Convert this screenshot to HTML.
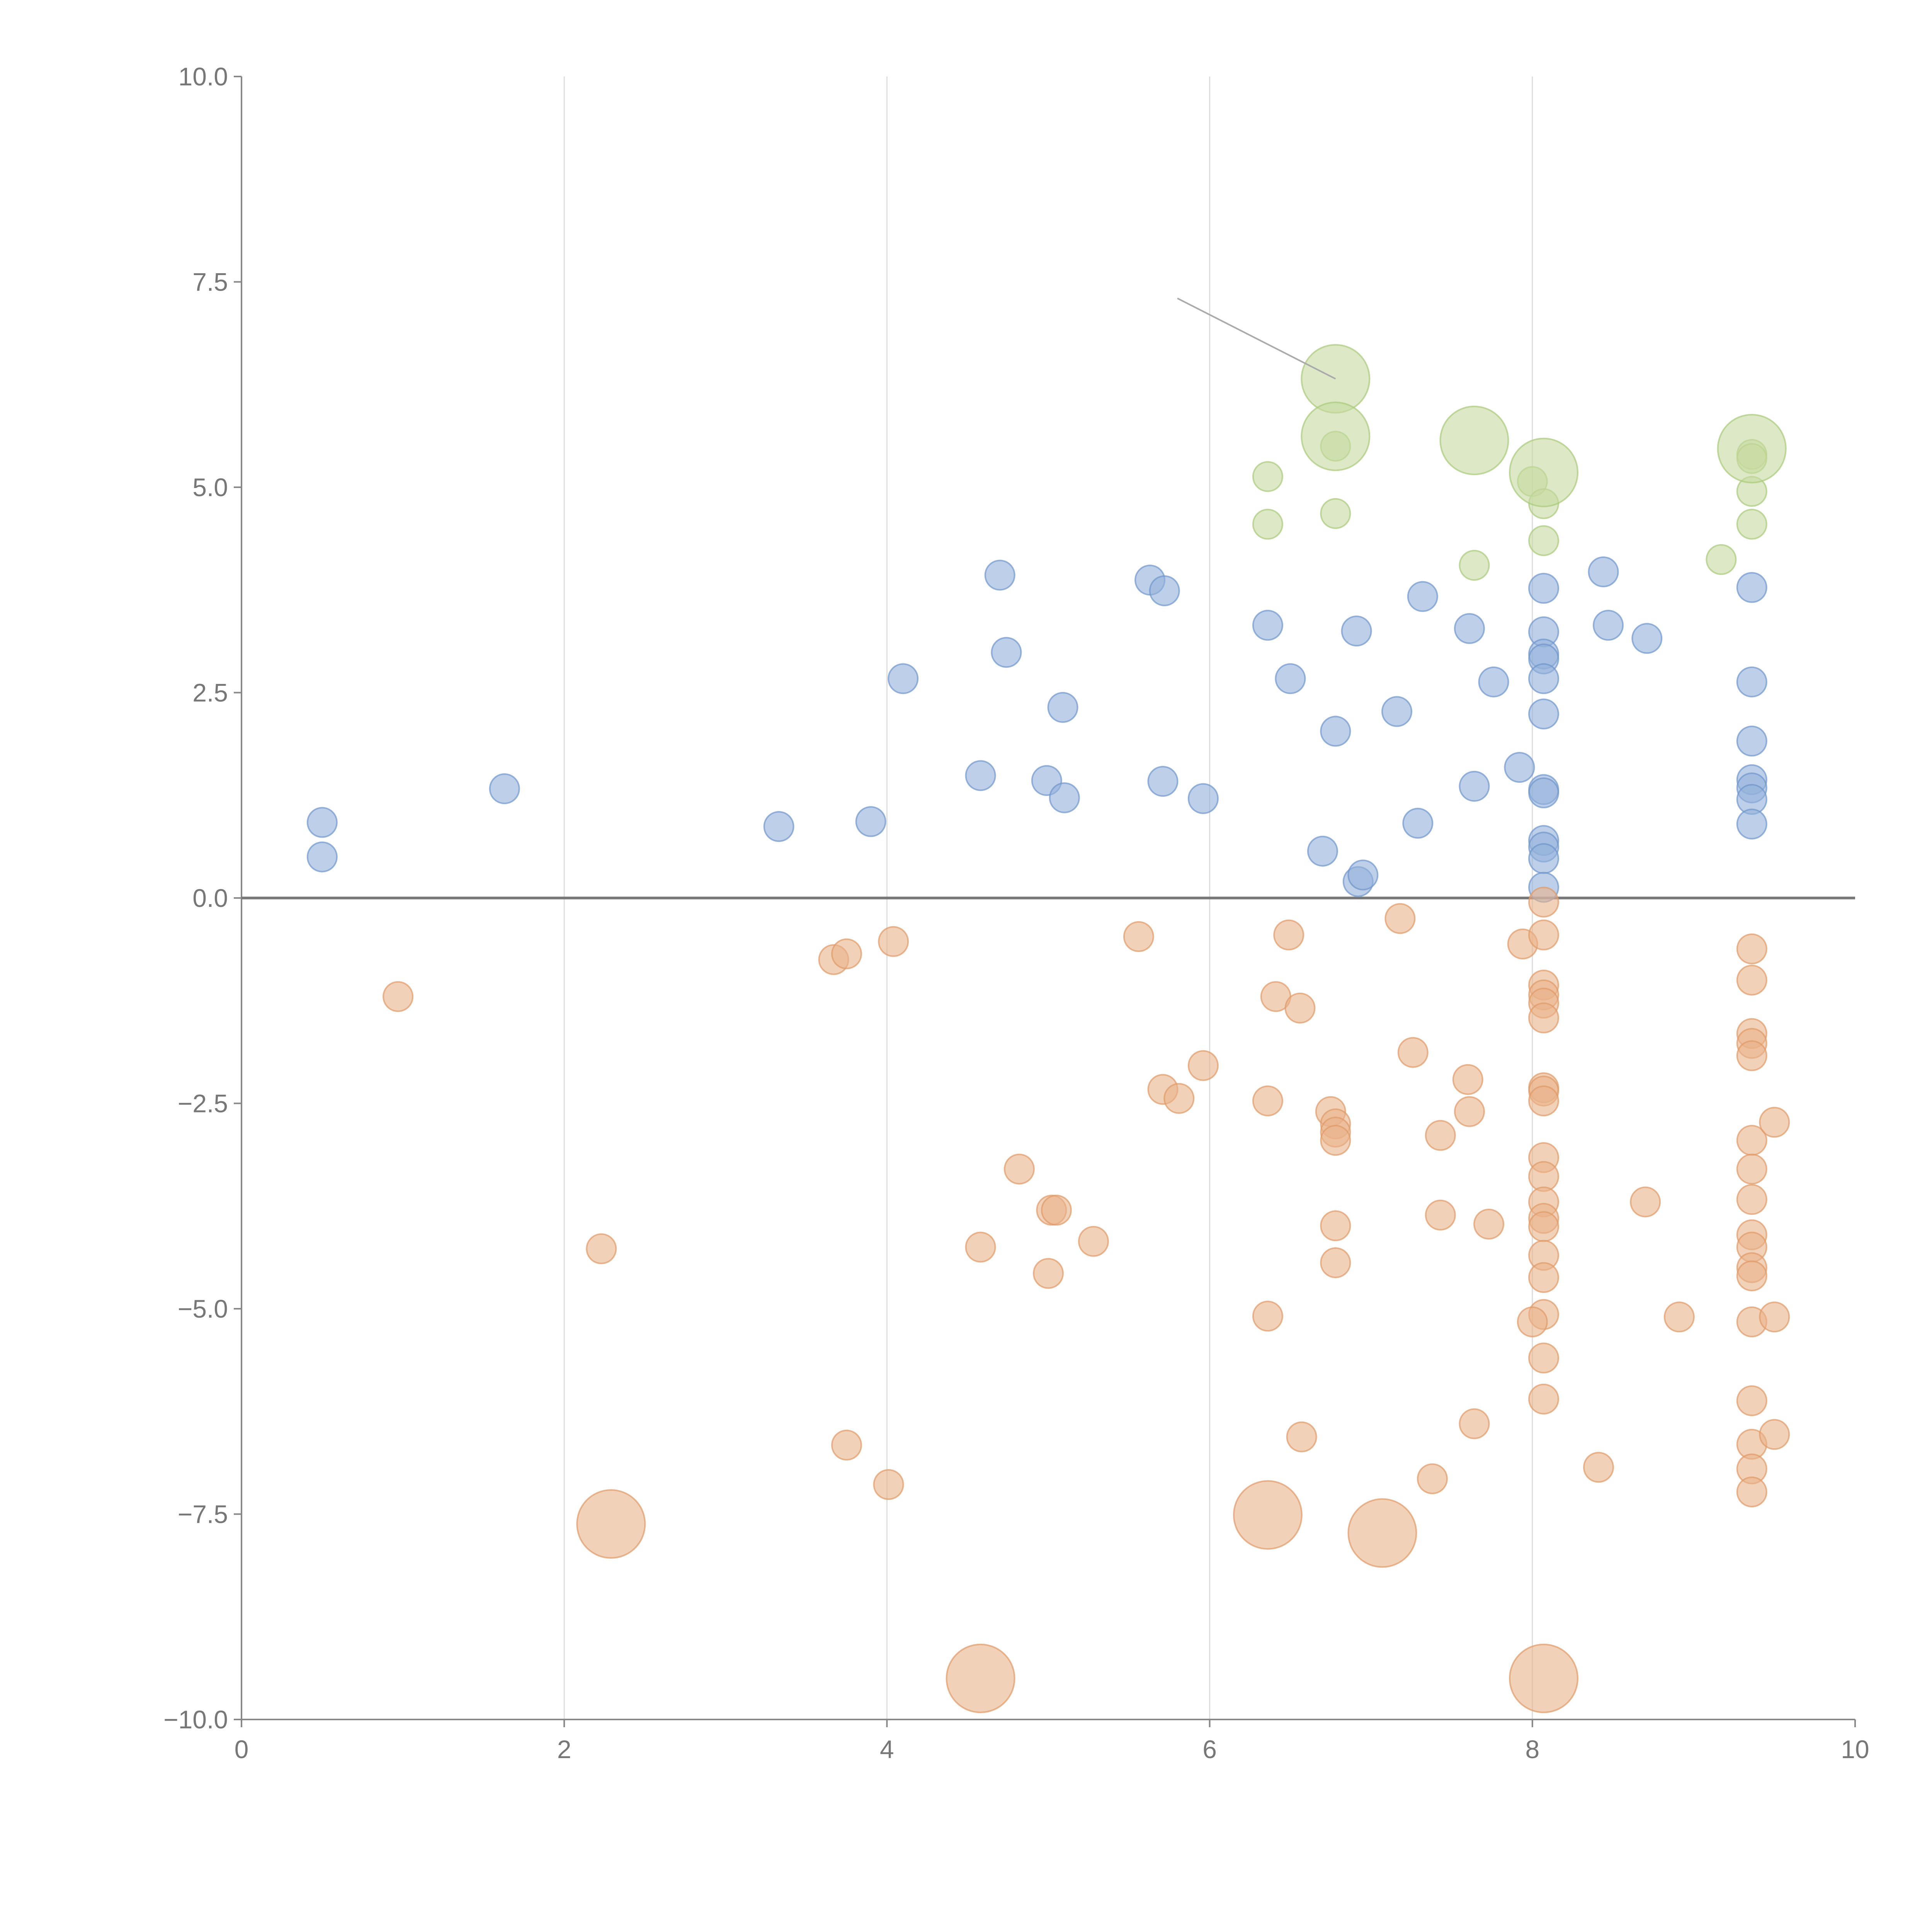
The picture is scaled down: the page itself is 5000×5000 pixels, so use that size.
<!DOCTYPE html>
<html><head><meta charset="utf-8"><style>
html,body{margin:0;padding:0;background:#fff}
svg{display:block}
text{font-family:"Liberation Sans",sans-serif;fill:#777;font-size:66px}
</style></head><body>
<svg id="chart" width="5000" height="5000" viewBox="0 0 5000 5000" xmlns="http://www.w3.org/2000/svg">
<g id="grid"></g>
<g id="axes"></g>
<g id="marks"></g>
</svg>
<script>
const xTicks=[0,2,4,6,8,10];
const yTicks=[10,7.5,5,2.5,0,-2.5,-5,-7.5,-10];
const blueX=[0.5,0.5,1.63,3.33,3.9,4.1,4.58,4.7,4.74,4.99,5.09,5.1,5.63,5.72,5.71,5.96,6.36,6.5,6.7,6.78,6.91,6.92,6.95,7.16,7.29,7.32,7.61,7.64,7.76,7.92,8.07,8.07,8.07,8.07,8.07,8.07,8.07,8.07,8.07,8.07,8.07,8.07,8.44,8.47,8.71,9.36,9.36,9.36,9.36,9.36,9.36,9.36];
const blueY=[0.92,0.5,1.33,0.87,0.93,2.67,1.49,3.93,2.99,1.43,2.32,1.22,3.87,3.74,1.42,1.21,3.32,2.67,0.57,2.03,3.25,0.2,0.28,2.27,0.91,3.67,3.28,1.36,2.63,1.59,3.77,3.24,2.97,2.91,2.67,2.24,1.32,1.28,0.7,0.62,0.48,0.13,3.97,3.32,3.16,3.78,2.63,1.91,1.44,1.34,1.2,0.9];
const greenX=[6.36,6.36,6.78,6.78,7.64,8.0,8.07,8.07,9.17,9.36,9.36,9.36,9.36];
const greenY=[5.13,4.55,5.5,4.68,4.05,5.07,4.8,4.35,4.12,5.4,5.35,4.95,4.55];
const greenBigX=[6.78,6.78,7.64,8.07,9.36];
const greenBigY=[6.32,5.62,5.57,5.18,5.47];
const orangeX=[0.97,2.23,3.67,3.75,4.04,3.75,4.01,4.58,4.82,5.02,5.05,5.0,5.28,5.56,5.71,5.81,5.96,6.36,6.41,6.49,6.56,6.36,6.57,6.75,6.78,6.78,6.78,6.78,6.78,7.18,7.26,7.38,7.43,7.43,7.6,7.61,7.64,7.73,7.94,8.07,8.07,8.07,8.07,8.07,8.07,8.07,8.07,8.07,8.07,8.07,8.07,8.07,8.07,8.07,8.07,8.07,8.0,8.07,8.07,8.41,8.7,8.91,9.36,9.36,9.36,9.36,9.36,9.36,9.36,9.36,9.36,9.36,9.36,9.36,9.36,9.36,9.36,9.36,9.36,9.5,9.5,9.5];
const orangeY=[-1.2,-4.27,-0.75,-0.68,-0.53,-6.66,-7.14,-4.25,-3.3,-3.8,-3.8,-4.57,-4.18,-0.47,-2.33,-2.44,-2.04,-2.47,-1.2,-0.45,-1.34,-5.09,-6.56,-2.6,-2.75,-2.85,-2.95,-3.99,-4.44,-0.25,-1.88,-7.07,-2.89,-3.86,-2.21,-2.6,-6.4,-3.97,-0.56,-0.05,-0.45,-1.06,-1.18,-1.28,-1.46,-2.31,-2.35,-2.47,-3.16,-3.39,-3.7,-3.9,-4.0,-4.35,-4.62,-5.07,-5.16,-5.6,-6.1,-6.93,-3.7,-5.1,-0.62,-1.0,-1.65,-1.77,-1.92,-2.95,-3.3,-3.67,-4.1,-4.25,-4.5,-4.6,-5.16,-6.12,-6.65,-6.95,-7.23,-2.73,-5.1,-6.53];
const orangeBigX=[2.29,4.58,6.36,7.07,8.07];
const orangeBigY=[-7.62,-9.5,-7.51,-7.73,-9.5];

const NS='http://www.w3.org/2000/svg';
const X0=625,X1=4801,Y0=4450,Y1=198;
const sx=v=>X0+(v-0)/(10-0)*(X1-X0);
const sy=v=>Y0-(v+10)/20*(Y0-Y1);
function mk(tag,attrs,parent){const e=document.createElementNS(NS,tag);for(const k in attrs)e.setAttribute(k,attrs[k]);parent.appendChild(e);return e;}
const grid=document.getElementById('grid'),axes=document.getElementById('axes'),marks=document.getElementById('marks');
const fmt=v=>(v<0?'\u2212':'')+Math.abs(v);
xTicks.forEach(t=>{
  if(t>0&&t<10){const g=mk('line',{x1:sx(t),x2:sx(t),y1:Y1,y2:Y0,stroke:'#ddd','stroke-width':3},grid);
  
  }
  const tk=mk('line',{x1:sx(t),x2:sx(t),y1:Y0,y2:Y0+20,stroke:'#888','stroke-width':4},axes);
  
  
  const tx=mk('text',{x:sx(t),y:Y0+100,'text-anchor':'middle'},axes);tx.textContent=fmt(t);
  
  
});
yTicks.forEach(t=>{
  const tk=mk('line',{x1:X0-20,x2:X0,y1:sy(t),y2:sy(t),stroke:'#888','stroke-width':4},axes);
  
  
  const tx=mk('text',{x:X0-35,y:sy(t)+23,'text-anchor':'end'},axes);tx.textContent=(t<0?'\u2212':'')+Math.abs(t).toFixed(1);
  
  
});
const ya=mk('line',{x1:X0,x2:X0,y1:Y1,y2:Y0,stroke:'#888','stroke-width':4},axes);


const xa=mk('line',{x1:X0,x2:X1,y1:Y0,y2:Y0,stroke:'#888','stroke-width':4},axes);


const zl=mk('line',{x1:X0,x2:X1,y1:sy(0),y2:sy(0),stroke:'#777','stroke-width':7},axes);



function series(xs,ys,r,fill,stroke,name){
  xs.forEach((x,i)=>{
    const c=mk('circle',{cx:sx(x),cy:sy(ys[i]),r:r,fill:fill,stroke:stroke,'stroke-width':4,'fill-opacity':0.6,'stroke-opacity':0.7},marks);
    
    
  });
}
series(blueX,blueY,38,'#92b0da','#6f95cc','blue-point');
series(orangeX,orangeY,38,'#eab28a','#e09a66','orange-point');
series(orangeBigX,orangeBigY,88,'#eab28a','#e09a66','orange-big-point');
series(greenX,greenY,38,'#c6dba0','#a9c97a','green-point');
series(greenBigX,greenBigY,88,'#c6dba0','#a9c97a','green-big-point');
const an=mk('line',{x1:sx(5.8),y1:sy(7.3),x2:sx(greenBigX[0]),y2:sy(greenBigY[0]),stroke:'#aaa','stroke-width':4},marks);


</script>
</body></html>
